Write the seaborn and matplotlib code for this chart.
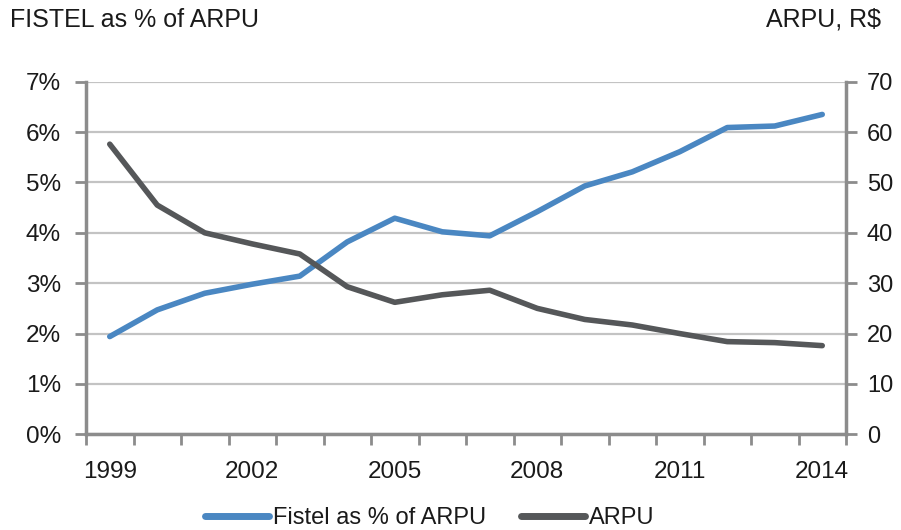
import matplotlib
matplotlib.use("Agg")
import matplotlib.pyplot as plt
import seaborn as sns
import numpy as np
from matplotlib.ticker import FixedLocator, FuncFormatter
from matplotlib.lines import Line2D

years = [1999, 2000, 2001, 2002, 2003, 2004, 2005, 2006, 2007,
         2008, 2009, 2010, 2011, 2012, 2013, 2014]
fistel_pct = [1.94, 2.47, 2.80, 2.98, 3.14, 3.82, 4.29, 4.02, 3.94,
              4.42, 4.93, 5.21, 5.61, 6.09, 6.12, 6.35]
arpu = [57.6, 45.5, 40.0, 37.8, 35.8, 29.3, 26.2, 27.7, 28.6,
        25.0, 22.8, 21.7, 20.0, 18.4, 18.2, 17.6]
label_years = [1999, 2002, 2005, 2008, 2011, 2014]
left_ticks = [0, 1, 2, 3, 4, 5, 6, 7]
right_ticks = [0, 10, 20, 30, 40, 50, 60, 70]

sns.set_theme(style="white")
plt.rcParams['font.family'] = ['Liberation Sans', 'DejaVu Sans']

BLUE = "#4a87c2"
GRAY = "#555759"
AXC = "#8c8c8c"
GRID = "#c3c3c3"
TXT = "#1a1a1a"

fig = plt.figure(figsize=(9.01, 5.30), dpi=100)
ax = fig.add_axes([86/901, 1-434.3/530, (846-86)/901, (434.3-81.7)/530])
ax2 = ax.twinx()

sns.lineplot(x=years, y=fistel_pct, ax=ax, color=BLUE, linewidth=4.0,
             solid_capstyle='round', solid_joinstyle='round')
sns.lineplot(x=years, y=arpu, ax=ax2, color=GRAY, linewidth=4.0,
             solid_capstyle='round', solid_joinstyle='round')

ax.set_xlim(years[0]-0.5, years[-1]+0.5)
ax.set_ylim(0, 7)
ax2.set_ylim(0, 70)

ax.set_yticks(left_ticks)
ax.yaxis.set_major_formatter(FuncFormatter(lambda v, p: f"{int(v)}%"))
ax.grid(axis='y', color=GRID, linewidth=1.6)
ax.grid(axis='x', visible=False)
ax.set_axisbelow(True)

ax2.set_yticks(right_ticks)
ax2.grid(False)

bounds = [y - 0.5 for y in years] + [years[-1] + 0.5]
ax.xaxis.set_major_locator(FixedLocator(bounds))
ax.xaxis.set_major_formatter(FuncFormatter(lambda v, p: ""))
ax.xaxis.set_minor_locator(FixedLocator(label_years))
ax.xaxis.set_minor_formatter(FuncFormatter(lambda v, p: f"{int(round(v))}"))
ax.tick_params(axis='x', which='major', direction='out', length=8, width=2, color=AXC, bottom=True)
ax.tick_params(axis='x', which='minor', length=0, pad=19, labelsize=17.5, labelcolor=TXT, bottom=True)
ax.tick_params(axis='y', direction='out', length=8, width=2, color=AXC, pad=10,
               labelsize=17.5, labelcolor=TXT, left=True)
ax2.tick_params(axis='y', direction='out', length=8, width=2, color=AXC, pad=7,
                labelsize=17, labelcolor=TXT, right=True)

for a in (ax, ax2):
    for s in a.spines.values():
        s.set_visible(False)
ax.spines['left'].set_visible(True)
ax.spines['bottom'].set_visible(True)
ax2.spines['right'].set_visible(True)
for s in (ax.spines['left'], ax.spines['bottom'], ax2.spines['right']):
    s.set_color(AXC)
    s.set_linewidth(2.5)

ax.set_xlabel("")
ax.set_ylabel("")
ax2.set_ylabel("")

fig.text(10/901, 1-20/530, "FISTEL as % of ARPU", ha='left', va='center', fontsize=18, color=TXT)
fig.text(881/901, 1-20/530, "ARPU, R$", ha='right', va='center', fontsize=18, color=TXT)

handles = [Line2D([0], [0], color=BLUE, linewidth=5, solid_capstyle='round'),
           Line2D([0], [0], color=GRAY, linewidth=5, solid_capstyle='round')]
fig.legend(handles, ["Fistel as % of ARPU", "ARPU"], loc='center', bbox_to_anchor=(0.477, 1-518/530),
           ncol=2, frameon=False, fontsize=17, handlelength=2.7, handletextpad=0.15,
           columnspacing=1.5, labelcolor=TXT)

fig.savefig("out.png", dpi=100)
